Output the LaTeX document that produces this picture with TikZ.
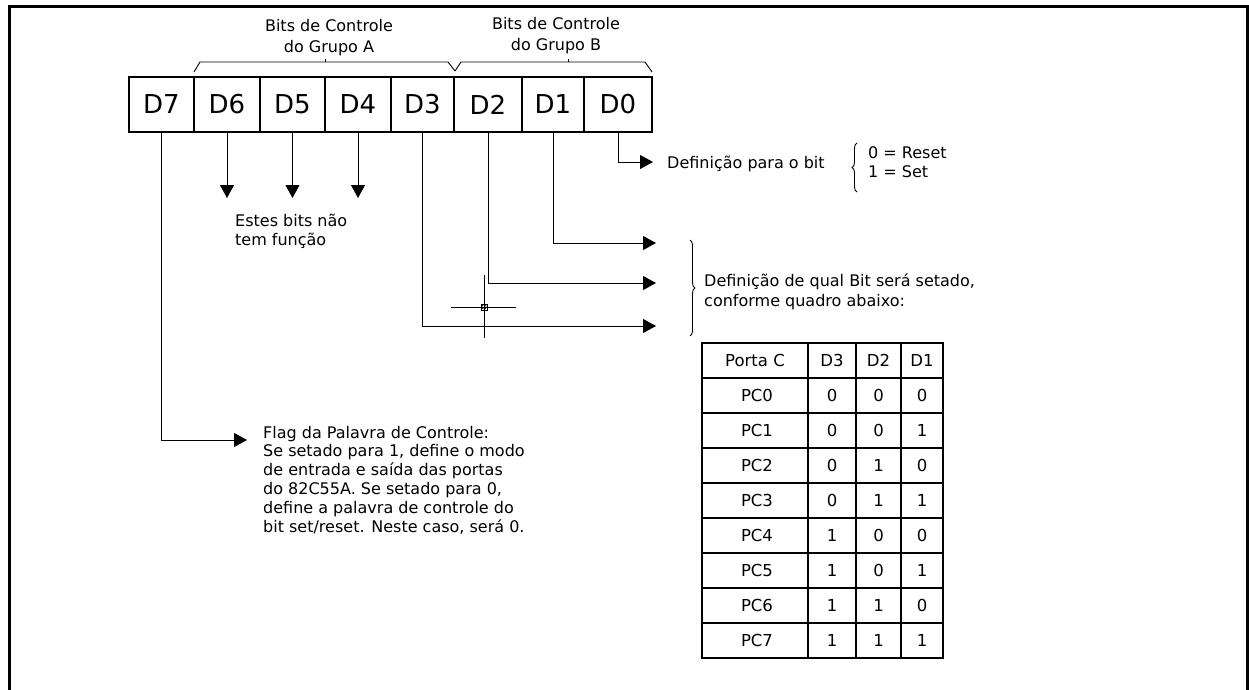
\documentclass[tikz,border=0pt]{standalone}
\usepackage{fontspec}
\setmainfont{DejaVu Sans}
\usetikzlibrary{arrows.meta,decorations.pathreplacing}

\begin{document}
\begin{tikzpicture}[x=1pt,y=-1pt,
  cell/.style={draw,line width=1.2pt,minimum height=55pt,inner sep=0pt,
    font=\fontsize{26}{30}\selectfont},
  arr/.style={line width=1pt,-{Triangle[length=13pt,width=14pt]}},
  % multi-line labels: the base anchor sits on the last line
  lbl/.style={inner sep=0pt,align=left,anchor=base west,
    font=\fontsize{16}{19}\selectfont},
  clbl/.style={inner sep=0pt,align=center,anchor=base,
    font=\fontsize{16}{21}\selectfont},
  tab/.style={inner sep=0pt,anchor=center,font=\fontsize{16.5}{20}\selectfont},
  grp/.style={line width=0.9pt},
  brc/.style={line width=0.9pt,decorate,decoration={brace,amplitude=5pt}},
]
\useasboundingbox (0,0) rectangle (1249,690);

% outer frame (open at the bottom)
\draw[line width=3pt] (9,695) -- (9,7) -- (1247,7) -- (1247,695);

% control word cells
\node[cell,minimum width=65pt] (d7) at (161.5,104.5) {D7};
\node[cell,minimum width=66pt] (d6) at (227,104.5) {D6};
\node[cell,minimum width=65pt] (d5) at (292.5,104.5) {D5};
\node[cell,minimum width=66pt] (d4) at (358,104.5) {D4};
\node[cell,minimum width=63pt] (d3) at (422.5,104.5) {D3};
\node[cell,minimum width=68pt] (d2) at (488,104.5) {D2};
\node[cell,minimum width=62pt] (d1) at (553,104.5) {D1};
\node[cell,minimum width=68pt] (d0) at (618,104.5) {D0};

% group brackets
\coordinate (ga0) at (194,72);
\coordinate (gmid) at (455,71);
\coordinate (gb1) at (652,72);
\draw[grp] (ga0) -- (200,62) -- (448,62) -- (gmid);
\draw[grp] (325,62) -- (325,59);
\draw[grp] (gmid) -- (461,62) -- (645,62) -- (gb1);
\draw[grp] (568,62) -- (568,59);

\node[clbl] (ga) at (329,53) {Bits de Controle\\do Grupo A};
\node[clbl] (gb) at (556,51) {Bits de Controle\\do Grupo B};

% unused bits
\coordinate (t6) at (227,198);
\coordinate (t5) at (292.5,198);
\coordinate (t4) at (358,198);
\draw[arr] (d6.south) -- (t6);
\draw[arr] (d5.south) -- (t5);
\draw[arr] (d4.south) -- (t4);
\node[lbl] (nf) at (235,245) {Estes bits não\\tem função};

% D0: set/reset
\coordinate (t0) at (653,162);
\draw[arr] (d0.south) |- (t0);
\node[lbl] (def0) at (667,168) {Definição para o bit};
\draw[brc] (857,192) -- (857,143);
\node[lbl] (rs) at (868,177) {0 = Reset\\1 = Set};

% D3..D1: bit select
\coordinate (t1) at (656,243);
\coordinate (t2) at (656,283);
\coordinate (t3) at (656,326);
\draw[arr] (d1.south) |- (t1);
\draw[arr] (d2.south) |- (t2);
\draw[arr] (d3.south) |- (t3);
\draw[brc] (690,240) -- (690,336);
\node[lbl,font=\fontsize{16}{20}\selectfont] (sel) at (704,306)
  {Definição de qual Bit será setado,\\conforme quadro abaixo:};

% cursor crosshair
\draw[line width=0.8pt] (451,307) -- (516,307);
\draw[line width=0.8pt] (484,275) -- (484,338);
\draw[line width=0.6pt] (481,304) rectangle (487,310);
\draw[line width=0.5pt] (484,307) circle (2.2pt);

% D7: control word flag
\coordinate (t7) at (247,440);
\draw[arr] (d7.south) |- (t7);
\node[lbl,font=\fontsize{16}{18.8}\selectfont] (flag) at (263,532) {Flag da Palavra de Controle:\\
Se setado para 1, define o modo\\
de entrada e saída das portas\\
do 82C55A. Se setado para 0,\\
define a palavra de controle do\\
bit set/reset. Neste caso, será 0.};

% port C bit table
\draw[line width=1.2pt] (702,343) rectangle (943,658);
\foreach \k in {1,...,8} \draw[line width=1.2pt] (702,343+35*\k) -- (943,343+35*\k);
\foreach \xx in {808,856,901} \draw[line width=1.2pt] (\xx,343) -- (\xx,658);
\node[tab] (hp) at (755,360.5) {Porta C};
\node[tab] (h3) at (832,360.5) {D3};
\node[tab] (h2) at (878.5,360.5) {D2};
\node[tab] (h1) at (922,360.5) {D1};
\foreach \r/\a/\b/\c in {0/0/0/0,1/0/0/1,2/0/1/0,3/0/1/1,4/1/0/0,5/1/0/1,6/1/1/0,7/1/1/1}{
  \node[tab] (pc\r) at (757,395.5+35*\r) {PC\r};
  \node[tab] (pa\r) at (832,395.5+35*\r) {\a};
  \node[tab] (pb\r) at (878.5,395.5+35*\r) {\b};
  \node[tab] (pd\r) at (922,395.5+35*\r) {\c};
}
\end{tikzpicture}
\end{document}
